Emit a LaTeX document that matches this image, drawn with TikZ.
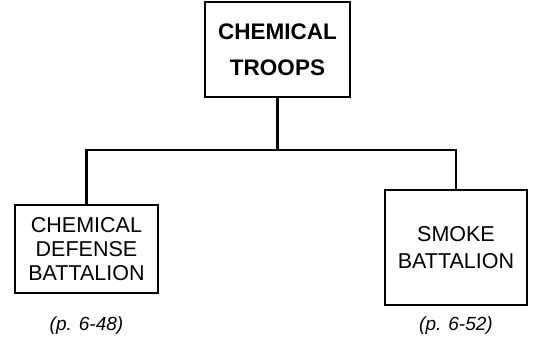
\documentclass[tikz,border=0pt]{standalone}
\usepackage{fontspec}
\setmainfont{Liberation Sans}
\usetikzlibrary{positioning}

\begin{document}
\begin{tikzpicture}[x=1pt,y=-1pt,line width=2.2pt,
  unitbox/.style={draw,align=center,inner sep=0pt},
  pageref/.style={font=\fontsize{19}{22}\selectfont\itshape}]
\useasboundingbox (0,0) rectangle (537,342);
\node[unitbox,minimum width=145pt,minimum height=95pt,font=\fontsize{22.5}{36}\selectfont\bfseries]
  (troops) at (277.5,49.5) {CHEMICAL\\TROOPS};
\node[unitbox,minimum width=143pt,minimum height=88pt,font=\fontsize{21.5}{24}\selectfont]
  (defense) at (86.5,249) {CHEMICAL\\DEFENSE\\BATTALION};
\node[unitbox,minimum width=142pt,minimum height=115pt,font=\fontsize{21.5}{27}\selectfont]
  (smoke) at (456,247.5) {SMOKE\\BATTALION};
\coordinate (split) at (277.5,150);
\draw (troops.south) -- (split);
\draw (defense.north) |- (split) -| (smoke.north);
\node[pageref] (defenseref) at (defense |- 0,326) {(p. 6-48)};
\node[pageref] (smokeref) at (smoke |- 0,326) {(p. 6-52)};
\end{tikzpicture}
\end{document}
